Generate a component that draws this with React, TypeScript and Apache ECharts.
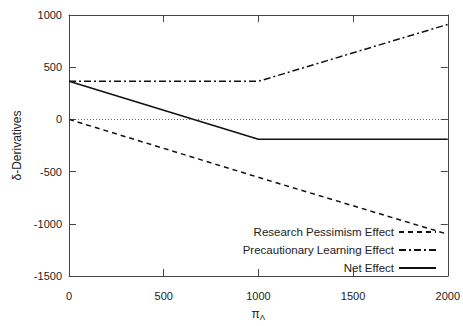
import React, { useEffect, useRef } from "react";
import * as echarts from "echarts";

const xValues = [0, 1000, 2000];
const researchPessimism = [0, -555, -1100];
const precautionaryLearning = [365, 365, 910];
const netEffect = [365, -190, -190];
const xTicks = [0, 500, 1000, 1500, 2000];
const yTicks = [-1500, -1000, -500, 0, 500, 1000];

const FONT = "Liberation Sans, Arial, sans-serif";

export default function App() {
  const ref = useRef<HTMLDivElement>(null);
  useEffect(() => {
    if (!ref.current) return;
    const chart = echarts.init(ref.current, null, { renderer: "svg" });
    const pairs = (ys: number[]) => xValues.map((x, i) => [x, ys[i]]);
    const axisColor = "#444";
    const common = {
      type: "value" as const,
      axisLine: { show: true, onZero: false, lineStyle: { color: axisColor, width: 1 } },
      axisTick: { show: true, inside: true, length: 7, lineStyle: { color: axisColor } },
      splitLine: { show: false },
    };
    chart.setOption({
      animation: false,
      backgroundColor: "#fff",
      textStyle: { fontFamily: FONT },
      grid: { left: 69, right: 12, top: 15, bottom: 48 },
      xAxis: [
        {
          ...common,
          min: xTicks[0],
          max: xTicks[xTicks.length - 1],
          interval: 500,
          position: "bottom",
          axisLabel: { color: "#222", fontSize: 11, fontFamily: FONT, margin: 14, formatter: (v: number) => String(v) },
          name: "{a|π}{b|Λ}",
          nameLocation: "middle",
          nameGap: 31,
          nameTextStyle: {
            rich: {
              a: { fontSize: 12, color: "#222", fontFamily: FONT },
              b: { fontSize: 8, color: "#222", fontFamily: FONT, padding: [6, 0, 0, 0] },
            },
          },
        },
        {
          ...common,
          min: xTicks[0],
          max: xTicks[xTicks.length - 1],
          interval: 500,
          position: "top",
          axisLabel: { show: false },
        },
      ],
      yAxis: [
        {
          ...common,
          min: yTicks[0],
          max: yTicks[yTicks.length - 1],
          interval: 500,
          position: "left",
          axisLabel: { color: "#222", fontSize: 11, fontFamily: FONT, margin: 7, formatter: (v: number) => String(v) },
          name: "δ-Derivatives",
          nameLocation: "middle",
          nameGap: 45,
          nameTextStyle: { fontSize: 12, color: "#222", fontFamily: FONT },
        },
        {
          ...common,
          min: yTicks[0],
          max: yTicks[yTicks.length - 1],
          interval: 500,
          position: "right",
          axisLabel: { show: false },
        },
      ],
      legend: {
        orient: "vertical",
        right: 21,
        top: 221,
        align: "right",
        itemWidth: 37,
        itemHeight: 10,
        itemGap: 6,
        itemStyle: { opacity: 0 },
        textStyle: { fontSize: 11.5, color: "#222", fontFamily: FONT },
        data: ["Research Pessimism Effect", "Precautionary Learning Effect", "Net Effect"],
      },
      series: [
        {
          name: "Research Pessimism Effect",
          type: "line",
          data: pairs(researchPessimism),
          symbol: "none",
          lineStyle: { color: "#111", width: 1.5, type: [5, 4] },
          itemStyle: { color: "#111" },
          markLine: {
            silent: true,
            symbol: "none",
            label: { show: false },
            lineStyle: { color: "#444", width: 0.8, type: [1, 2] },
            data: [{ yAxis: 0 }],
          },
        },
        {
          name: "Precautionary Learning Effect",
          type: "line",
          data: pairs(precautionaryLearning),
          symbol: "none",
          lineStyle: { color: "#111", width: 1.5, type: [7, 3, 2, 3] },
          itemStyle: { color: "#111" },
        },
        {
          name: "Net Effect",
          type: "line",
          data: pairs(netEffect),
          symbol: "none",
          lineStyle: { color: "#111", width: 1.5, type: "solid" },
          itemStyle: { color: "#111" },
        },
      ],
    });
    return () => chart.dispose();
  }, []);
  return <div ref={ref} style={{ width: 463, height: 326, position: "absolute", left: 0, top: 0 }} />;
}
